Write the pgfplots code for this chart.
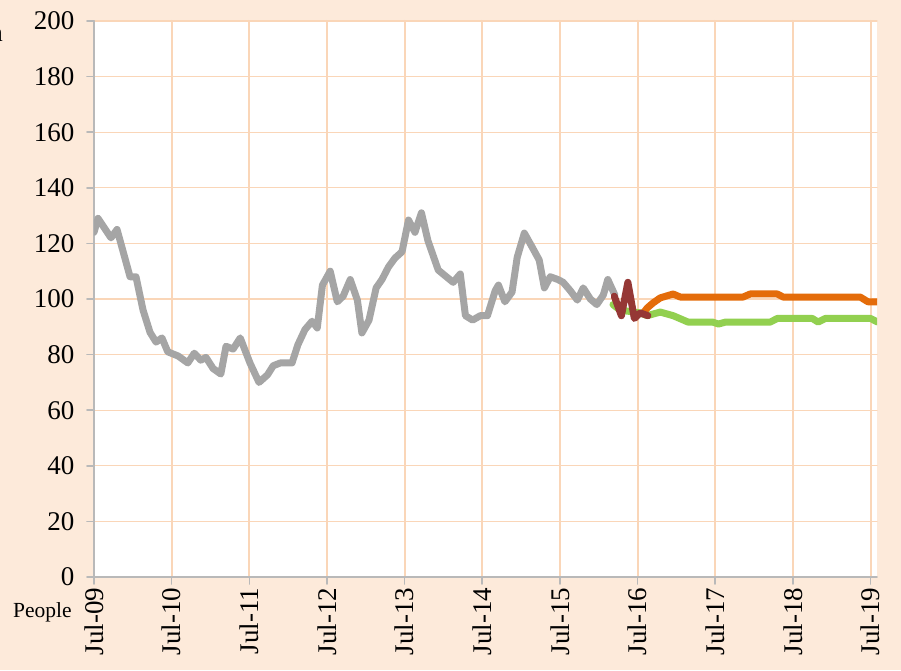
\documentclass[border=0pt]{standalone}
\usepackage{fontspec}
\setmainfont{Liberation Serif}
\usepackage{pgfplots}
\pgfplotsset{compat=1.18}
\definecolor{bg}{RGB}{253,234,218}
\definecolor{gridc}{RGB}{250,214,184}
\definecolor{axc}{RGB}{185,185,185}
\definecolor{grayline}{RGB}{165,165,165}
\definecolor{redline}{RGB}{149,55,53}
\definecolor{orangeline}{RGB}{228,108,10}
\definecolor{greenline}{RGB}{146,208,80}
\begin{document}
\begin{tikzpicture}
\fill[bg] (-94pt,-93pt) rectangle (807pt,577pt);
\clip (-94pt,-93pt) rectangle (807pt,577pt);
\node[anchor=east, inner sep=0pt, font=\fontsize{26}{30}\selectfont] at (-91pt,542pt) {n};
\node[font=\fontsize{21.5}{25}\selectfont] at (-51.5pt,-35pt) {People};
\begin{axis}[
  at={(0,0)}, anchor=south west, scale only axis,
  width=783pt, height=556pt,
  xmin=0, xmax=121, ymin=0, ymax=200,
  axis background/.style={fill=white},
  axis lines*=left,
  axis line style={draw=axc, line width=1.6pt},
  ytick={0,20,...,200},
  xtick={0,12,...,120},
  minor xtick={12,24,...,120},
  minor ytick={20,40,...,200},
  xticklabels={Jul-09,Jul-10,Jul-11,Jul-12,Jul-13,Jul-14,Jul-15,Jul-16,Jul-17,Jul-18,Jul-19},
  tick align=outside, major tick length=7pt, minor tick length=0pt,
  tick style={draw=axc, line width=1.6pt},
  minor tick style={draw=none},
  xminorgrids, yminorgrids,
  x grid style={draw=gridc, line width=2pt},
  y grid style={draw=gridc, line width=1.1pt},
  ticklabel style={font=\fontsize{27}{31}\selectfont},
  /pgf/number format/assume math mode=true,
  xticklabel style={rotate=90, anchor=east},
  yticklabel style={xshift=-9pt},
  line join=round, line cap=round,
]
\addplot[grayline, line width=7pt] coordinates {
(0,124) (0.62,129) (2.63,122) (3.56,125) (5.57,108) (6.49,108) (7.58,96) (8.66,88)
(9.59,84.5) (10.5,86) (11.4,81) (13.0,79.5) (14.5,77) (15.5,80.5) (16.5,78) (17.3,79)
(18.4,75) (19.6,73) (20.4,83) (21.5,82) (22.6,86) (24.1,77) (25.5,70) (26.8,72.7)
(27.7,76) (28.8,77) (30.6,77) (31.5,83.5) (32.6,89) (33.7,92) (34.5,89.6) (35.3,105)
(36.5,110) (37.6,99) (38.5,101) (39.6,107) (40.7,99.6) (41.4,87.8) (42.5,92.4) (43.6,104)
(44.5,107) (45.5,111.5) (46.5,114.7) (47.6,117) (48.6,128.4) (49.6,124) (50.6,131) (51.6,121)
(53.2,110.4) (55.5,106) (56.6,109) (57.4,94) (58.5,92.4) (59.7,94) (60.8,94) (62.0,103)
(62.5,105) (63.5,99) (64.6,102.5) (65.4,115) (66.5,123.7) (67.7,118.7) (68.8,114) (69.6,104)
(70.5,108) (71.7,107) (72.5,106) (73.6,103) (74.7,99.6) (75.6,104) (76.7,100) (77.7,98)
(78.7,101.4) (79.4,107) (80.5,101.4)
};
\addplot[greenline, line width=7pt] coordinates {
(80.2,98) (81.3,96) (84.4,95) (85.5,94) (87.5,95.3) (89.5,94) (91.8,91.7) (95.6,91.7)
(96.5,91) (97.6,91.7) (104.5,91.7) (105.6,93) (111,93) (111.9,91.7) (113,93) (120,93) (121.1,91.7)
};
\addplot[orangeline, line width=7pt] coordinates {
(84.9,95) (85.5,96.8) (86.4,98.6) (87.5,100.4) (89.5,101.8) (90.6,100.7) (100.3,100.7)
(101.4,101.8) (105.6,101.8) (106.5,100.7) (118.4,100.7) (119.6,99) (121,99)
};
\addplot[redline, line width=7pt] coordinates {
(80.4,101) (81.5,94) (82.5,106) (83.5,93) (84.4,95) (85.6,94)
};
\end{axis}
\end{tikzpicture}
\end{document}
